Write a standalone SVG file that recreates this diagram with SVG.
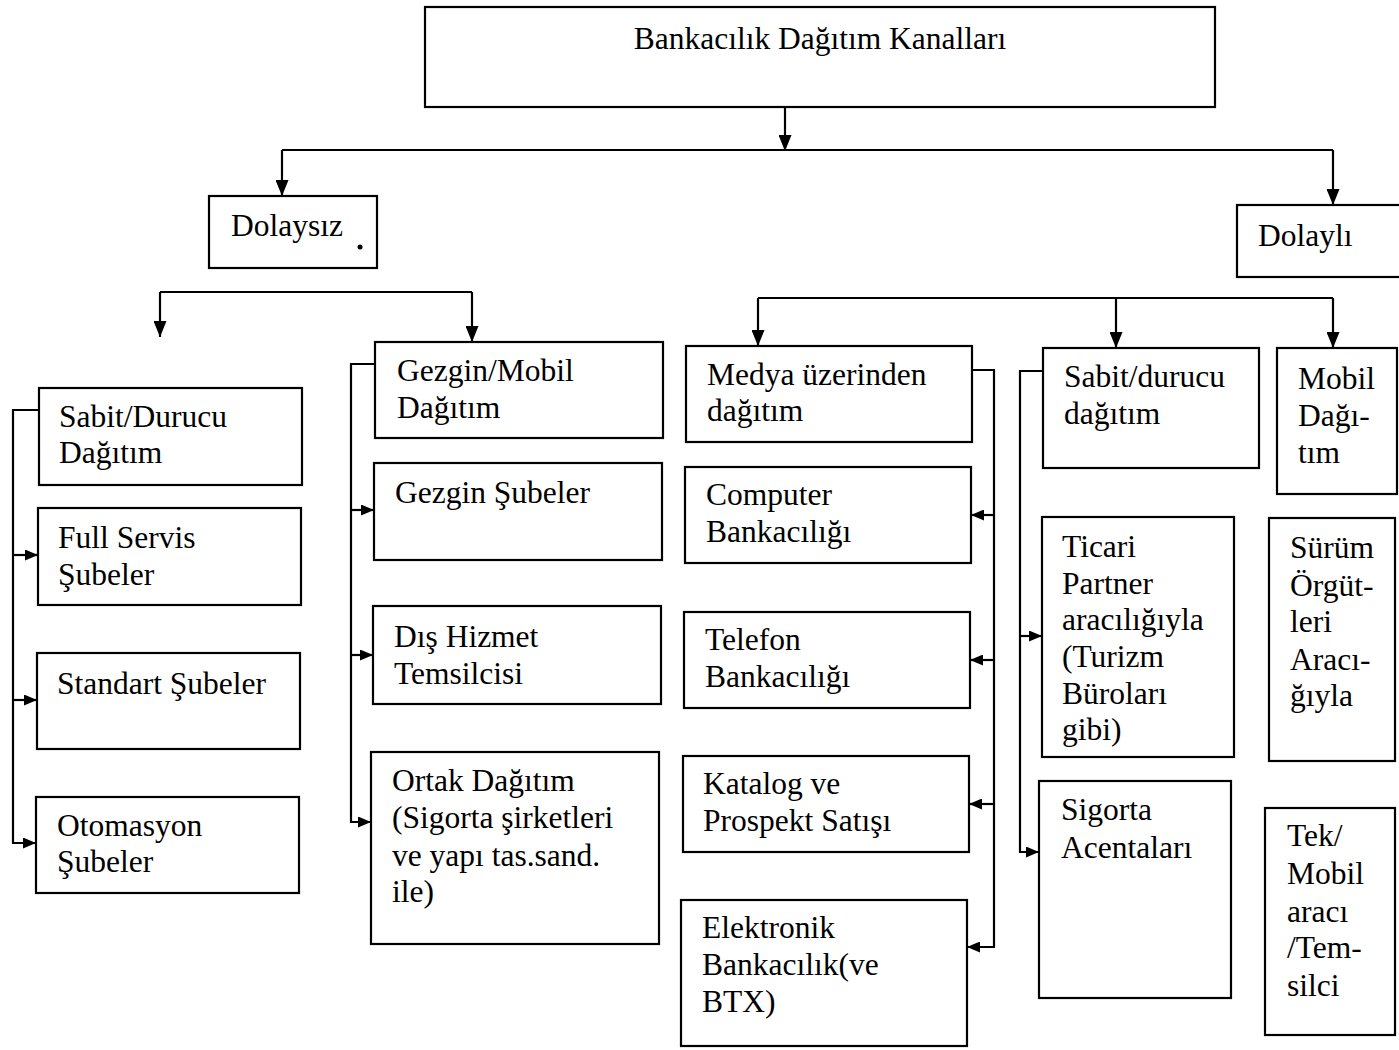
<svg xmlns="http://www.w3.org/2000/svg" width="1399" height="1050" viewBox="0 0 1399 1050">
  <style>
    .box { fill: #fff; stroke: #000; stroke-width: 2.2; }
    .lbl { font-family: "Liberation Serif", "Times New Roman", serif; font-size: 31.5px; fill: #000; }
    .ln { fill: none; stroke: #000; stroke-width: 2.2; }
  </style>
  <defs>
    <marker id="ah" viewBox="0 0 16 13" refX="16" refY="6.5" markerWidth="16" markerHeight="13" markerUnits="userSpaceOnUse" orient="auto">
      <path d="M0,0 L16,6.5 L0,13 Z" fill="#000"/>
    </marker>
    <marker id="ahs" viewBox="0 0 13 11" refX="13" refY="5.5" markerWidth="13" markerHeight="11" markerUnits="userSpaceOnUse" orient="auto">
      <path d="M0,0 L13,5.5 L0,11 Z" fill="#000"/>
    </marker>
  </defs>
  <rect width="1399" height="1050" fill="#fff"/>

  <!-- connectors -->
  <g id="connectors">
    <path class="ln" d="M785,107 V151" marker-end="url(#ah)"/>
    <path class="ln" d="M282,150 H1333"/>
    <path class="ln" d="M282,150 V196" marker-end="url(#ah)"/>
    <path class="ln" d="M1333,150 V205" marker-end="url(#ah)"/>

    <path class="ln" d="M160,292 H472"/>
    <path class="ln" d="M160,292 V337" marker-end="url(#ah)"/>
    <path class="ln" d="M472,292 V342" marker-end="url(#ah)"/>

    <path class="ln" d="M758,298 H1333"/>
    <path class="ln" d="M758,298 V346" marker-end="url(#ah)"/>
    <path class="ln" d="M1116,298 V348" marker-end="url(#ah)"/>
    <path class="ln" d="M1333,298 V348" marker-end="url(#ah)"/>

    <path class="ln" d="M39,410 H13 V843 H36" marker-end="url(#ahs)"/>
    <path class="ln" d="M13,555 H38" marker-end="url(#ahs)"/>
    <path class="ln" d="M13,700 H37" marker-end="url(#ahs)"/>

    <path class="ln" d="M375,364 H351 V822 H371" marker-end="url(#ahs)"/>
    <path class="ln" d="M351,510 H374" marker-end="url(#ahs)"/>
    <path class="ln" d="M351,655 H373" marker-end="url(#ahs)"/>

    <path class="ln" d="M972,370 H994 V947 H967" marker-end="url(#ahs)"/>
    <path class="ln" d="M994,515 H971" marker-end="url(#ahs)"/>
    <path class="ln" d="M994,660 H970" marker-end="url(#ahs)"/>
    <path class="ln" d="M994,804 H969" marker-end="url(#ahs)"/>

    <path class="ln" d="M1043,371 H1020 V852 H1039" marker-end="url(#ahs)"/>
    <path class="ln" d="M1020,636 H1042" marker-end="url(#ahs)"/>
  </g>

  <!-- root -->
  <g id="root">
    <rect class="box" x="425" y="7" width="790" height="100"/>
    <text class="lbl" x="820" y="49" text-anchor="middle">Bankacılık Dağıtım Kanalları</text>
  </g>

  <g id="dolaysiz">
    <rect class="box" x="209" y="196" width="168" height="72"/>
    <text class="lbl" x="231" y="236">Dolaysız</text>
    <circle cx="360" cy="247" r="2.5" fill="#000"/>
  </g>
  <g id="dolayli">
    <rect class="box" x="1237" y="205" width="170" height="72"/>
    <text class="lbl" x="1258" y="246">Dolaylı</text>
  </g>

  <!-- direct: fixed branches -->
  <g id="sabit-durucu">
    <rect class="box" x="39" y="388" width="263" height="97"/>
    <text class="lbl" x="59" y="427">Sabit/Durucu</text>
    <text class="lbl" x="59" y="463">Dağıtım</text>
  </g>
  <g id="full-servis">
    <rect class="box" x="38" y="508" width="263" height="97"/>
    <text class="lbl" x="58" y="548">Full Servis</text>
    <text class="lbl" x="58" y="585">Şubeler</text>
  </g>
  <g id="standart">
    <rect class="box" x="37" y="653" width="263" height="96"/>
    <text class="lbl" x="57" y="694">Standart Şubeler</text>
  </g>
  <g id="otomasyon">
    <rect class="box" x="36" y="797" width="263" height="96"/>
    <text class="lbl" x="57" y="836">Otomasyon</text>
    <text class="lbl" x="57" y="872">Şubeler</text>
  </g>

  <!-- direct: mobile -->
  <g id="gezgin-mobil">
    <rect class="box" x="375" y="342" width="288" height="96"/>
    <text class="lbl" x="397" y="381">Gezgin/Mobil</text>
    <text class="lbl" x="397" y="418">Dağıtım</text>
  </g>
  <g id="gezgin-subeler">
    <rect class="box" x="374" y="463" width="288" height="97"/>
    <text class="lbl" x="395" y="503">Gezgin Şubeler</text>
  </g>
  <g id="dis-hizmet">
    <rect class="box" x="373" y="606" width="288" height="98"/>
    <text class="lbl" x="394" y="647">Dış Hizmet</text>
    <text class="lbl" x="394" y="684">Temsilcisi</text>
  </g>
  <g id="ortak">
    <rect class="box" x="371" y="752" width="288" height="192"/>
    <text class="lbl" x="392" y="791">Ortak Dağıtım</text>
    <text class="lbl" x="392" y="828">(Sigorta şirketleri</text>
    <text class="lbl" x="392" y="866">ve yapı tas.sand.</text>
    <text class="lbl" x="392" y="902">ile)</text>
  </g>

  <!-- indirect: media -->
  <g id="medya">
    <rect class="box" x="686" y="346" width="286" height="96"/>
    <text class="lbl" x="707" y="385">Medya üzerinden</text>
    <text class="lbl" x="707" y="421">dağıtım</text>
  </g>
  <g id="computer">
    <rect class="box" x="685" y="467" width="286" height="96"/>
    <text class="lbl" x="706" y="505">Computer</text>
    <text class="lbl" x="706" y="542">Bankacılığı</text>
  </g>
  <g id="telefon">
    <rect class="box" x="684" y="612" width="286" height="96"/>
    <text class="lbl" x="705" y="650">Telefon</text>
    <text class="lbl" x="705" y="687">Bankacılığı</text>
  </g>
  <g id="katalog">
    <rect class="box" x="683" y="756" width="286" height="96"/>
    <text class="lbl" x="703" y="794">Katalog ve</text>
    <text class="lbl" x="703" y="831">Prospekt Satışı</text>
  </g>
  <g id="elektronik">
    <rect class="box" x="681" y="900" width="286" height="146"/>
    <text class="lbl" x="702" y="938">Elektronik</text>
    <text class="lbl" x="702" y="975">Bankacılık(ve</text>
    <text class="lbl" x="702" y="1012">BTX)</text>
  </g>

  <!-- indirect: fixed -->
  <g id="sabit-durucu-dolayli">
    <rect class="box" x="1043" y="348" width="216" height="120"/>
    <text class="lbl" x="1064" y="387">Sabit/durucu</text>
    <text class="lbl" x="1064" y="424">dağıtım</text>
  </g>
  <g id="ticari">
    <rect class="box" x="1042" y="517" width="192" height="240"/>
    <text class="lbl" x="1062" y="557">Ticari</text>
    <text class="lbl" x="1062" y="594">Partner</text>
    <text class="lbl" x="1062" y="630">aracılığıyla</text>
    <text class="lbl" x="1062" y="667">(Turizm</text>
    <text class="lbl" x="1062" y="704">Büroları</text>
    <text class="lbl" x="1062" y="740">gibi)</text>
  </g>
  <g id="sigorta">
    <rect class="box" x="1039" y="781" width="192" height="217"/>
    <text class="lbl" x="1061" y="820">Sigorta</text>
    <text class="lbl" x="1061" y="858">Acentaları</text>
  </g>

  <!-- indirect: mobile -->
  <g id="mobil-dagitim">
    <rect class="box" x="1277" y="348" width="120" height="146"/>
    <text class="lbl" x="1298" y="389">Mobil</text>
    <text class="lbl" x="1298" y="426">Dağı-</text>
    <text class="lbl" x="1298" y="463">tım</text>
  </g>
  <g id="surum">
    <rect class="box" x="1269" y="518" width="126" height="243"/>
    <text class="lbl" x="1290" y="558">Sürüm</text>
    <text class="lbl" x="1290" y="596">Örgüt-</text>
    <text class="lbl" x="1290" y="632">leri</text>
    <text class="lbl" x="1290" y="670">Aracı-</text>
    <text class="lbl" x="1290" y="706">ğıyla</text>
  </g>
  <g id="tek-mobil">
    <rect class="box" x="1265" y="808" width="130" height="227"/>
    <text class="lbl" x="1287" y="846">Tek/</text>
    <text class="lbl" x="1287" y="884">Mobil</text>
    <text class="lbl" x="1287" y="922">aracı</text>
    <text class="lbl" x="1287" y="958">/Tem-</text>
    <text class="lbl" x="1287" y="996">silci</text>
  </g>
</svg>
